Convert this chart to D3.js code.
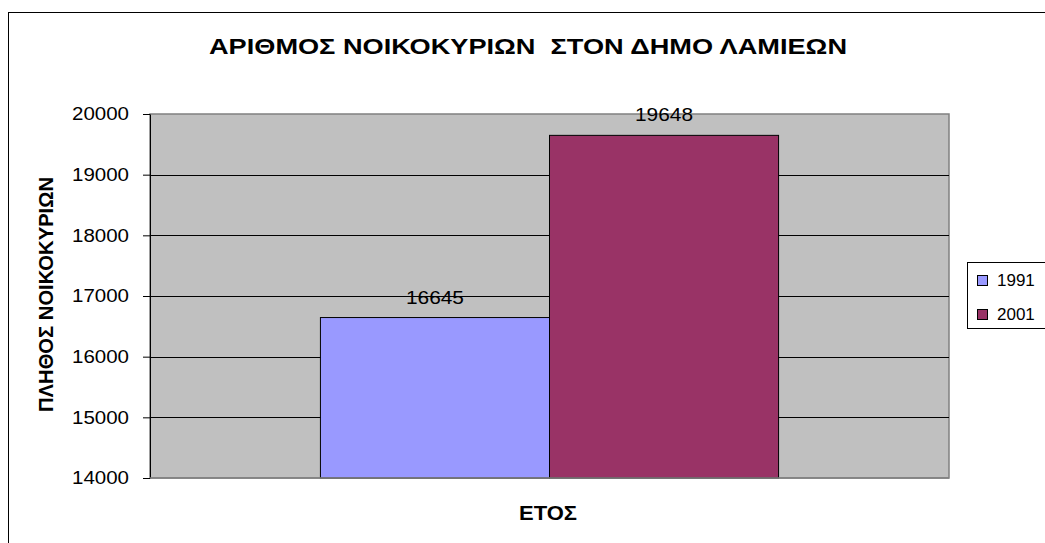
<!DOCTYPE html>
<html><head><meta charset="utf-8">
<script src="https://cdn.jsdelivr.net/npm/d3@7"></script>
<style>body{margin:0;background:#fff}svg{display:block;font-family:"Liberation Sans",Arial,sans-serif}</style>
</head><body>
<svg id="c" width="1045" height="543"></svg>
<script>
const categories = ["ΕΤΟΣ"];
const seriesNames = ["1991", "2001"];
const seriesValues = [16645, 19648];
const seriesColors = ["#9999FF", "#993366"];
const yTicks = [14000, 15000, 16000, 17000, 18000, 19000, 20000];
const title = "ΑΡΙΘΜΟΣ ΝΟΙΚΟΚΥΡΙΩΝ  ΣΤΟΝ ΔΗΜΟ ΛΑΜΙΕΩΝ";
const yTitle = "ΠΛΗΘΟΣ ΝΟΙΚΟΚΥΡΙΩΝ";

const svg = d3.select("#c");
// outer frame
svg.append("rect").attr("x", 8.5).attr("y", 12.5).attr("width", 1100).attr("height", 600)
  .attr("fill", "#fff").attr("stroke", "#000").attr("stroke-width", 1);

const L = 150, R = 949, T = 114, B = 478;
const y = d3.scaleLinear().domain([14000, 20000]).range([B, T]);
const x0 = d3.scaleBand().domain(categories).range([L, R]).paddingInner(0).paddingOuter(0.372);
const x1 = d3.scaleBand().domain(seriesNames).range([0, x0.bandwidth()]);

svg.append("rect").attr("x", L).attr("y", T).attr("width", R - L).attr("height", B - T)
  .attr("fill", "#C0C0C0").attr("stroke", "#808080").attr("stroke-width", 1.5);

// gridlines
svg.append("g").selectAll("line").data(yTicks.filter(t => t > 14000 && t < 20000)).join("line")
  .attr("x1", L).attr("x2", R).attr("y1", d => Math.round(y(d)) + 0.5).attr("y2", d => Math.round(y(d)) + 0.5)
  .attr("stroke", "#000").attr("stroke-width", 1);

// bars
const g = svg.append("g").attr("transform", `translate(${x0(categories[0])},0)`);
g.selectAll("rect").data(seriesNames).join("rect")
  .attr("x", d => x1(d)).attr("width", x1.bandwidth())
  .attr("y", (d, i) => y(seriesValues[i])).attr("height", (d, i) => B - y(seriesValues[i]))
  .attr("fill", (d, i) => seriesColors[i]).attr("stroke", "#000").attr("stroke-width", 1);
g.selectAll("text").data(seriesNames).join("text")
  .attr("x", d => x1(d) + x1.bandwidth() / 2)
  .attr("y", (d, i) => y(seriesValues[i]) - 14)
  .attr("text-anchor", "middle").attr("font-size", 19).attr("textLength", 58).attr("lengthAdjust", "spacingAndGlyphs").attr("fill", "#000")
  .text((d, i) => seriesValues[i]);

// y axis
const yAxis = d3.axisLeft(y).tickValues(yTicks).tickSize(7).tickSizeOuter(0).tickPadding(14).tickFormat(d3.format("d"));
const ya = svg.append("g").attr("transform", `translate(${L},0)`).call(yAxis);
ya.select(".domain").attr("stroke", "#000");
ya.selectAll(".tick line").attr("stroke", "#000");
ya.selectAll("text").attr("font-size", 18).attr("textLength", 57).attr("lengthAdjust", "spacingAndGlyphs")
  .attr("font-family", "Liberation Sans, Arial, sans-serif").attr("fill", "#000");
// bottom axis line
svg.append("line").attr("x1", L).attr("x2", R).attr("y1", B).attr("y2", B).attr("stroke", "#808080").attr("stroke-width", 1.5);

// titles
svg.append("text").attr("x", 528).attr("y", 54).attr("text-anchor", "middle")
  .attr("font-size", 22).attr("font-weight", "bold").style("white-space", "pre")
  .attr("textLength", 638).attr("lengthAdjust", "spacingAndGlyphs").text(title);
svg.append("text").attr("transform", `translate(53,${(177 + 412) / 2}) rotate(-90)`).attr("text-anchor", "middle")
  .attr("font-size", 20.5).attr("font-weight", "bold").attr("textLength", 235).attr("lengthAdjust", "spacingAndGlyphs").text(yTitle);
svg.append("text").attr("x", 548).attr("y", 520).attr("text-anchor", "middle")
  .attr("font-size", 21).attr("font-weight", "bold").attr("textLength", 58).attr("lengthAdjust", "spacingAndGlyphs").text(categories[0]);

// legend
const lg = svg.append("g");
lg.append("rect").attr("x", 967.5).attr("y", 262.5).attr("width", 78).attr("height", 66)
  .attr("fill", "#fff").attr("stroke", "#000").attr("stroke-width", 1);
seriesNames.forEach((s, i) => {
  lg.append("rect").attr("x", 977.5).attr("y", 275.5 + i * 34).attr("width", 10).attr("height", 10)
    .attr("fill", seriesColors[i]).attr("stroke", "#000").attr("stroke-width", 1);
  lg.append("text").attr("x", 997).attr("y", 286 + i * 34).attr("font-size", 17).text(s);
});
</script>
</body></html>
